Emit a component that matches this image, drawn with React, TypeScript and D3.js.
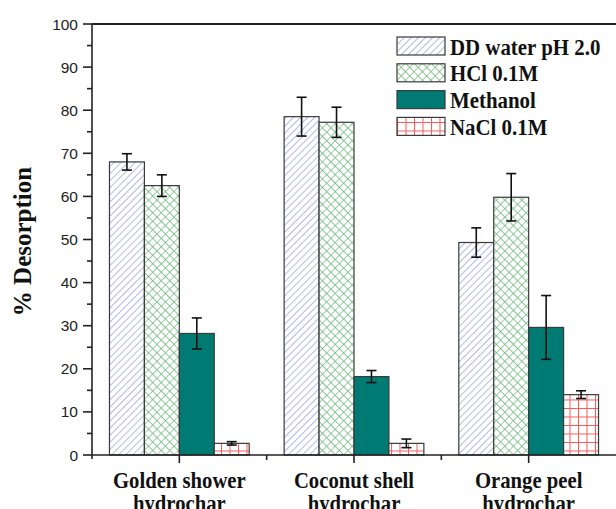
import React, { useEffect, useRef } from "react";
import * as d3 from "d3";

const categories = ["Golden shower\nhydrochar", "Coconut shell\nhydrochar", "Orange peel\nhydrochar"];
const seriesNames = ["DD water pH 2.0", "HCl 0.1M", "Methanol", "NaCl 0.1M"];

const ddWater = [68.0, 78.5, 49.3];
const ddWaterErr = [1.9, 4.5, 3.4];
const hcl = [62.5, 77.2, 59.8];
const hclErr = [2.5, 3.5, 5.5];
const methanol = [28.2, 18.2, 29.6];
const methanolErr = [3.6, 1.4, 7.4];
const nacl = [2.7, 2.7, 14.0];
const naclErr = [0.4, 1.0, 0.9];

const yTicks = [0, 10, 20, 30, 40, 50, 60, 70, 80, 90, 100];

export default function App() {
  const ref = useRef<SVGSVGElement | null>(null);
  const width = 616;
  const height = 509;

  useEffect(() => {
    const svg = d3.select(ref.current);
    svg.selectAll("*").remove();

    const margin = { top: 24, right: 0, bottom: 54, left: 92 };
    const serif = "'Liberation Serif', 'Times New Roman', serif";
    const sans = "'Liberation Sans', Arial, sans-serif";

    const values = [ddWater, hcl, methanol, nacl];
    const errors = [ddWaterErr, hclErr, methanolErr, naclErr];
    const rows = categories.flatMap((c, ci) =>
      seriesNames.map((s, si) => ({ cat: c, series: s, si, value: values[si][ci], err: errors[si][ci] }))
    );

    const x = d3
      .scaleBand()
      .domain(categories)
      .range([margin.left, width - margin.right])
      .paddingInner(0.2)
      .paddingOuter(0.1);
    const xs = d3.scaleBand().domain(seriesNames).range([0, x.bandwidth()]);
    const y = d3.scaleLinear().domain([0, 100]).range([height - margin.bottom, margin.top]);

    // patterns
    const defs = svg.append("defs");
    const p1 = defs
      .append("pattern")
      .attr("id", "pDD")
      .attr("patternUnits", "userSpaceOnUse")
      .attr("width", 5)
      .attr("height", 5)
      .attr("patternTransform", "rotate(45)");
    p1.append("rect").attr("width", 5).attr("height", 5).attr("fill", "#fff");
    p1.append("line").attr("x1", 0).attr("y1", 0).attr("x2", 0).attr("y2", 5)
      .attr("stroke", "#8c96d4").attr("stroke-width", 1.3);

    const p2 = defs
      .append("pattern")
      .attr("id", "pHCl")
      .attr("patternUnits", "userSpaceOnUse")
      .attr("width", 6)
      .attr("height", 6)
      .attr("patternTransform", "rotate(45)");
    p2.append("rect").attr("width", 6).attr("height", 6).attr("fill", "#fff");
    p2.append("path").attr("d", "M0,0V6M0,0H6")
      .attr("stroke", "#66b277").attr("stroke-width", 1.3).attr("fill", "none");

    const p4 = defs
      .append("pattern")
      .attr("id", "pNaCl")
      .attr("patternUnits", "userSpaceOnUse")
      .attr("width", 8.5)
      .attr("height", 8.5);
    p4.append("rect").attr("width", 8.5).attr("height", 8.5).attr("fill", "#fff");
    p4.append("path").attr("d", "M0.5,0V8.5M0,0.5H8.5")
      .attr("stroke", "#f25a5a").attr("stroke-width", 1).attr("fill", "none");

    const fills = ["url(#pDD)", "url(#pHCl)", "#007b74", "url(#pNaCl)"];

    // bars
    svg
      .selectAll(".bar")
      .data(rows)
      .join("rect")
      .attr("class", "bar")
      .attr("x", (d) => (x(d.cat) as number) + (xs(d.series) as number))
      .attr("y", (d) => y(d.value))
      .attr("width", xs.bandwidth())
      .attr("height", (d) => y(0) - y(d.value))
      .attr("fill", (d) => fills[d.si])
      .attr("stroke", "#3a3a3a")
      .attr("stroke-width", 1.2);

    // error bars
    const eb = svg.append("g").attr("stroke", "#111").attr("stroke-width", 1.6);
    rows.forEach((d) => {
      const cx = (x(d.cat) as number) + (xs(d.series) as number) + xs.bandwidth() / 2;
      eb.append("line").attr("x1", cx).attr("x2", cx).attr("y1", y(d.value + d.err)).attr("y2", y(d.value - d.err));
      [d.value + d.err, d.value - d.err].forEach((v) => {
        eb.append("line").attr("x1", cx - 5).attr("x2", cx + 5).attr("y1", y(v)).attr("y2", y(v));
      });
    });

    // axes
    const ax = svg.append("g").attr("stroke", "#222").attr("stroke-width", 1.6);
    ax.append("line").attr("x1", margin.left).attr("x2", margin.left).attr("y1", y(100)).attr("y2", y(0) + 4);
    ax.append("line").attr("x1", margin.left).attr("x2", width).attr("y1", y(0)).attr("y2", y(0));
    ax.append("line").attr("x1", margin.left).attr("x2", width).attr("y1", y(100)).attr("y2", y(100)).attr("stroke-width", 2.2);
    d3.range(0, 101, 5).forEach((v) => {
      const major = v % 10 === 0;
      ax.append("line")
        .attr("x1", margin.left - (major ? 9 : 5))
        .attr("x2", margin.left)
        .attr("y1", y(v))
        .attr("y2", y(v));
    });
    categories.forEach((c, i) => {
      const cx = (x(c) as number) + x.bandwidth() / 2;
      ax.append("line").attr("x1", cx).attr("x2", cx).attr("y1", y(0)).attr("y2", y(0) + 8);
      if (i < categories.length - 1) {
        const bx = cx + x.step() / 2;
        ax.append("line").attr("x1", bx).attr("x2", bx).attr("y1", y(0)).attr("y2", y(0) + 5);
      }
    });

    svg
      .append("g")
      .selectAll("text")
      .data(yTicks)
      .join("text")
      .attr("x", margin.left - 14)
      .attr("y", (d) => y(d))
      .attr("dy", "0.36em")
      .attr("text-anchor", "end")
      .attr("font-family", sans)
      .attr("font-size", 15.5)
      .attr("fill", "#222")
      .text((d) => d);

    // category labels (slightly condensed, like the original)
    categories.forEach((c) => {
      const cx = (x(c) as number) + x.bandwidth() / 2;
      const t = svg
        .append("text")
        .attr("transform", `translate(${cx},0) scale(0.9,1)`)
        .attr("text-anchor", "middle")
        .attr("font-family", serif)
        .attr("font-weight", "bold")
        .attr("font-size", 23)
        .attr("fill", "#111");
      c.split("\n").forEach((line, li) => {
        t.append("tspan").attr("x", 0).attr("y", 488 + li * 23).text(line);
      });
    });

    // y label
    svg
      .append("text")
      .attr("transform", `translate(31, ${(y(0) + y(100)) / 2 + 2}) rotate(-90)`)
      .attr("text-anchor", "middle")
      .attr("font-family", serif)
      .attr("font-weight", "bold")
      .attr("font-size", 25)
      .attr("fill", "#111")
      .text("% Desorption");

    // legend
    const lg = svg.append("g").attr("transform", "translate(397,37)");
    seriesNames.forEach((s, i) => {
      lg.append("rect")
        .attr("x", 0)
        .attr("y", i * 26.8)
        .attr("width", 48)
        .attr("height", 18)
        .attr("fill", fills[i])
        .attr("stroke", "#3a3a3a")
        .attr("stroke-width", 1.2);
      lg.append("text")
        .attr("transform", `translate(53, ${i * 26.8 + 9}) scale(0.87,1)`)
        .attr("dy", "0.36em")
        .attr("font-family", serif)
        .attr("font-weight", "bold")
        .attr("font-size", 24)
        .attr("fill", "#111")
        .text(s);
    });
  }, []);

  return (
    <svg
      ref={ref}
      width={width}
      height={height}
      style={{ position: "absolute", left: 0, top: 0, background: "#fff" }}
    />
  );
}
